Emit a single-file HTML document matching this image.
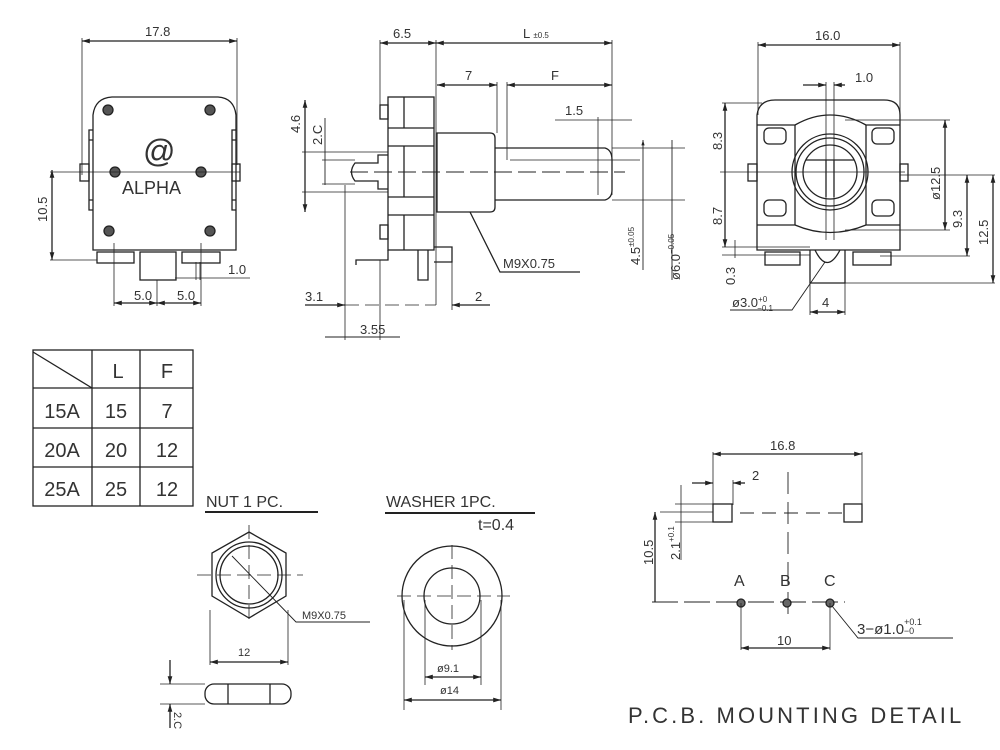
<!DOCTYPE html>
<html><head><meta charset="utf-8"><style>
html,body{margin:0;padding:0;background:#fff;}
svg{display:block;}
text{font-family:"Liberation Sans",sans-serif;fill:#333;}
</style></head><body>
<svg width="1000" height="750" viewBox="0 0 1000 750" xmlns="http://www.w3.org/2000/svg">
<defs>
<marker id="a" viewBox="0 0 10 10" refX="10" refY="5" markerWidth="6" markerHeight="6" orient="auto-start-reverse"><path d="M0,2 L10,5 L0,8z" fill="#222"/></marker>
</defs>
<g stroke="#222" stroke-width="1.3" fill="none">
<path d="M93,250 L93,115 Q95,98 112,97 L218,97 Q234,98 236,115 L236,250 Z"/>
<path d="M93,130 h-4 v10 h4 M93,200 h-4 v10 h4 M236,130 h-4 v10 h4 M236,200 h-4 v10 h4 M89,140 v60 M232,140 v60"/>
<rect x="80" y="164" width="9" height="17"/><rect x="232" y="164" width="8" height="17"/>
<g fill="#555"><circle cx="108" cy="110" r="5"/><circle cx="210" cy="110" r="5"/><circle cx="115" cy="172" r="5"/><circle cx="201" cy="172" r="5"/><circle cx="109" cy="231" r="5"/><circle cx="210" cy="231" r="5"/></g>
<rect x="97" y="252" width="37" height="11"/><rect x="140" y="252" width="36" height="28"/><rect x="182" y="252" width="38" height="11"/>
<line x1="50" y1="172" x2="240" y2="172" stroke-width="0.8"/>
<line x1="82" y1="41" x2="237" y2="41" marker-start="url(#a)" marker-end="url(#a)"/>
<line x1="82" y1="38" x2="82" y2="175" stroke-width="0.8"/><line x1="237" y1="38" x2="237" y2="165" stroke-width="0.8"/>
<line x1="52" y1="170" x2="52" y2="260" marker-start="url(#a)" marker-end="url(#a)"/>
<line x1="50" y1="260" x2="97" y2="260" stroke-width="0.8"/>
<line x1="114" y1="243" x2="114" y2="306" stroke-width="0.8"/><line x1="157" y1="280" x2="157" y2="306" stroke-width="0.8"/><line x1="201" y1="243" x2="201" y2="306" stroke-width="0.8"/>
<line x1="114" y1="303" x2="157" y2="303" marker-start="url(#a)" marker-end="url(#a)"/><line x1="157" y1="303" x2="201" y2="303" marker-start="url(#a)" marker-end="url(#a)"/>
<line x1="175" y1="278" x2="250" y2="278" stroke-width="0.8"/>
<line x1="196" y1="262" x2="196" y2="280" stroke-width="0.8"/><line x1="200" y1="262" x2="200" y2="280" stroke-width="0.8"/>
<rect x="388" y="97" width="46" height="153"/>
<line x1="388" y1="128" x2="434" y2="128"/><line x1="388" y1="146" x2="434" y2="146"/><line x1="388" y1="197" x2="434" y2="197"/><line x1="388" y1="215" x2="434" y2="215"/>
<line x1="404" y1="97" x2="404" y2="128"/><line x1="404" y1="146" x2="404" y2="197"/><line x1="404" y1="215" x2="404" y2="250"/>
<rect x="380" y="105" width="8" height="14"/><rect x="380" y="225" width="8" height="14"/>
<path d="M437,133 L490,133 Q495,133 495,138 L495,207 Q495,212 490,212 L437,212 Z"/>
<path d="M495,148 L605,148 Q612,150 612,160 L612,190 Q612,198 605,200 L495,200"/>
<line x1="510" y1="160" x2="640" y2="160" stroke-width="0.8"/>
<path d="M388,155 L378,155 L378,163 L355,163 Q348,172 355,181 L378,181 L378,189 L388,189"/>
<line x1="322" y1="160" x2="355" y2="160" stroke-width="0.8"/><line x1="322" y1="184" x2="355" y2="184" stroke-width="0.8"/>
<path d="M388,250 L388,260 L356,260 L356,265 M418,250 L418,280 L428,280 L428,250 M434,247 L452,247 L452,262 L434,262"/>
<line x1="350" y1="172" x2="625" y2="172" stroke-dasharray="18,6" stroke-width="0.9"/>
<line x1="380" y1="40" x2="380" y2="110" stroke-width="0.8"/><line x1="436" y1="40" x2="436" y2="305" stroke-width="0.8"/><line x1="612" y1="40" x2="612" y2="195" stroke-width="0.8"/>
<line x1="380" y1="43" x2="436" y2="43" marker-start="url(#a)" marker-end="url(#a)"/>
<line x1="436" y1="43" x2="612" y2="43" marker-start="url(#a)" marker-end="url(#a)"/>
<line x1="437" y1="85" x2="497" y2="85" marker-start="url(#a)" marker-end="url(#a)"/>
<line x1="507" y1="85" x2="612" y2="85" marker-start="url(#a)" marker-end="url(#a)"/>
<line x1="497" y1="82" x2="497" y2="133" stroke-width="0.8"/><line x1="507" y1="82" x2="507" y2="160" stroke-width="0.8"/>
<line x1="555" y1="120" x2="632" y2="120" stroke-width="0.8"/><line x1="598" y1="117" x2="598" y2="195" stroke-width="0.8"/>
<line x1="612" y1="148" x2="685" y2="148" stroke-width="0.8"/><line x1="612" y1="200" x2="685" y2="200" stroke-width="0.8"/>
<line x1="643" y1="140" x2="643" y2="270" marker-start="url(#a)" stroke-width="0.9"/>
<line x1="672" y1="140" x2="672" y2="280" stroke-width="0.9"/>
<line x1="305" y1="100" x2="305" y2="212" marker-start="url(#a)" marker-end="url(#a)"/>
<line x1="302" y1="152" x2="388" y2="152" stroke-width="0.8"/><line x1="302" y1="192" x2="388" y2="192" stroke-width="0.8"/>
<line x1="325" y1="118" x2="325" y2="185" stroke-width="0.9"/>
<line x1="345" y1="185" x2="345" y2="340" stroke-width="0.8"/><line x1="380" y1="260" x2="380" y2="340" stroke-width="0.8"/><line x1="452" y1="250" x2="452" y2="310" stroke-width="0.8"/>
<line x1="305" y1="305" x2="345" y2="305" marker-end="url(#a)"/><line x1="345" y1="305" x2="436" y2="305" stroke-dasharray="14,6" stroke-width="0.8"/>
<line x1="452" y1="305" x2="490" y2="305" marker-start="url(#a)"/>
<line x1="325" y1="337" x2="400" y2="337" stroke-width="0.9"/>
<polyline points="470,212 500,272 580,272"/>
<path d="M757,250 L757,115 Q759,100 775,100 L884,100 Q900,100 900,115 L900,250 Z"/>
<rect x="748" y="164" width="9" height="17"/><rect x="900" y="164" width="8" height="17"/>
<rect x="764" y="128" width="22" height="16" rx="5"/><rect x="872" y="128" width="22" height="16" rx="5"/>
<rect x="764" y="200" width="22" height="16" rx="5"/><rect x="872" y="200" width="22" height="16" rx="5"/>
<path d="M757,125 L795,125 Q830,105 866,125 L900,125 M757,225 L795,225 Q830,240 866,225 L900,225"/>
<line x1="795" y1="125" x2="795" y2="225"/><line x1="866" y1="125" x2="866" y2="225"/>
<circle cx="830" cy="172" r="38"/><circle cx="830" cy="172" r="34"/><circle cx="830" cy="172" r="27"/>
<path d="M806,160 L854,160 M826,160 V197 M834,160 V197"/>
<rect x="765" y="252" width="35" height="13"/><rect x="853" y="252" width="38" height="13"/>
<path d="M810,250 L810,283 L845,283 L845,250 M815,250 Q827,275 840,250"/>
<line x1="720" y1="172" x2="905" y2="172" stroke-width="0.8"/>
<line x1="758" y1="42" x2="758" y2="115" stroke-width="0.8"/><line x1="900" y1="42" x2="900" y2="115" stroke-width="0.8"/>
<line x1="758" y1="45" x2="900" y2="45" marker-start="url(#a)" marker-end="url(#a)"/>
<line x1="803" y1="85" x2="826" y2="85" marker-end="url(#a)"/><line x1="834" y1="85" x2="845" y2="85" marker-start="url(#a)"/>
<line x1="826" y1="82" x2="826" y2="240" stroke-width="0.8"/><line x1="834" y1="82" x2="834" y2="240" stroke-width="0.8"/>
<line x1="722" y1="103" x2="762" y2="103" stroke-width="0.8"/>
<line x1="725" y1="103" x2="725" y2="247" marker-start="url(#a)" marker-end="url(#a)"/>
<line x1="722" y1="247" x2="810" y2="247" stroke-width="0.8"/><line x1="722" y1="255" x2="810" y2="255" stroke-width="0.8"/>
<line x1="735" y1="240" x2="735" y2="258" stroke-width="0.8"/>
<line x1="845" y1="120" x2="950" y2="120" stroke-width="0.8"/><line x1="845" y1="230" x2="950" y2="230" stroke-width="0.8"/>
<line x1="945" y1="120" x2="945" y2="230" marker-start="url(#a)" marker-end="url(#a)"/>
<line x1="900" y1="175" x2="995" y2="175" stroke-width="0.8"/><line x1="880" y1="256" x2="970" y2="256" stroke-width="0.8"/><line x1="845" y1="283" x2="995" y2="283" stroke-width="0.8"/>
<line x1="967" y1="175" x2="967" y2="256" marker-start="url(#a)" marker-end="url(#a)"/>
<line x1="993" y1="175" x2="993" y2="283" marker-start="url(#a)" marker-end="url(#a)"/>
<line x1="810" y1="283" x2="810" y2="315" stroke-width="0.8"/><line x1="845" y1="283" x2="845" y2="315" stroke-width="0.8"/>
<line x1="810" y1="312" x2="845" y2="312" marker-start="url(#a)" marker-end="url(#a)"/>
<polyline points="730,310 792,310 825,262" stroke-width="0.9"/>
<rect x="33" y="350" width="160" height="156"/>
<line x1="33" y1="388" x2="193" y2="388"/><line x1="33" y1="428" x2="193" y2="428"/><line x1="33" y1="467" x2="193" y2="467"/>
<line x1="92" y1="350" x2="92" y2="506"/><line x1="140" y1="350" x2="140" y2="506"/>
<line x1="33" y1="352" x2="92" y2="388"/>
<line x1="205" y1="512" x2="318" y2="512" stroke-width="2"/>
<polygon points="249,532 286,553 286,596 249,618 212,596 212,553"/>
<circle cx="249" cy="575" r="33"/><circle cx="249" cy="575" r="29"/>
<line x1="197" y1="575" x2="303" y2="575" stroke-dasharray="14,6" stroke-width="0.8"/>
<line x1="249" y1="525" x2="249" y2="625" stroke-dasharray="14,6" stroke-width="0.8"/>
<polyline points="232,556 296,622 370,622" stroke-width="0.9"/>
<line x1="210" y1="610" x2="210" y2="665" stroke-width="0.8"/><line x1="288" y1="610" x2="288" y2="665" stroke-width="0.8"/>
<line x1="210" y1="662" x2="288" y2="662" marker-start="url(#a)" marker-end="url(#a)"/>
<rect x="205" y="684" width="86" height="20" rx="9"/><line x1="228" y1="684" x2="228" y2="704"/><line x1="270" y1="684" x2="270" y2="704"/>
<line x1="160" y1="684" x2="205" y2="684" stroke-width="0.8"/><line x1="160" y1="704" x2="205" y2="704" stroke-width="0.8"/>
<line x1="170" y1="660" x2="170" y2="684" marker-end="url(#a)"/><line x1="170" y1="728" x2="170" y2="704" marker-end="url(#a)"/>
<line x1="385" y1="513" x2="535" y2="513" stroke-width="2"/>
<circle cx="452" cy="596" r="50"/><circle cx="452" cy="596" r="28"/>
<line x1="397" y1="596" x2="510" y2="596" stroke-dasharray="14,6" stroke-width="0.8"/>
<line x1="452" y1="545" x2="452" y2="650" stroke-dasharray="14,6" stroke-width="0.8"/>
<line x1="425" y1="600" x2="425" y2="685" stroke-width="0.8"/><line x1="481" y1="600" x2="481" y2="685" stroke-width="0.8"/>
<line x1="404" y1="600" x2="404" y2="710" stroke-width="0.8"/><line x1="501" y1="600" x2="501" y2="710" stroke-width="0.8"/>
<line x1="425" y1="677" x2="481" y2="677" marker-start="url(#a)" marker-end="url(#a)"/>
<line x1="404" y1="700" x2="501" y2="700" marker-start="url(#a)" marker-end="url(#a)"/>
<line x1="713" y1="452" x2="713" y2="505" stroke-width="0.8"/><line x1="862" y1="452" x2="862" y2="505" stroke-width="0.8"/>
<line x1="713" y1="454" x2="862" y2="454" marker-start="url(#a)" marker-end="url(#a)"/>
<line x1="733" y1="480" x2="733" y2="505" stroke-width="0.8"/>
<line x1="692" y1="483" x2="713" y2="483" marker-end="url(#a)"/><line x1="733" y1="483" x2="745" y2="483" marker-start="url(#a)"/>
<rect x="713" y="504" width="19" height="18"/><rect x="844" y="504" width="18" height="18"/>
<line x1="740" y1="513" x2="842" y2="513" stroke-dasharray="14,8" stroke-width="0.9"/>
<line x1="788" y1="472" x2="788" y2="615" stroke-dasharray="22,8" stroke-width="0.9"/>
<line x1="660" y1="512" x2="713" y2="512" stroke-width="0.8"/><line x1="675" y1="504" x2="713" y2="504" stroke-width="0.8"/><line x1="675" y1="522" x2="713" y2="522" stroke-width="0.8"/>
<line x1="681" y1="485" x2="681" y2="560" stroke-width="0.8"/>
<line x1="655" y1="512" x2="655" y2="602" marker-start="url(#a)"/>
<line x1="652" y1="602" x2="845" y2="602" stroke-dasharray="26,6" stroke-width="0.9"/>
<g fill="#666"><circle cx="741" cy="603" r="4"/><circle cx="787" cy="603" r="4"/><circle cx="830" cy="603" r="4"/></g>
<line x1="741" y1="603" x2="741" y2="650" stroke-width="0.8"/><line x1="830" y1="603" x2="830" y2="650" stroke-width="0.8"/>
<line x1="741" y1="648" x2="830" y2="648" marker-start="url(#a)" marker-end="url(#a)"/>
<polyline points="832,606 858,638 953,638" stroke-width="0.9"/>
</g>
<g font-size="13">
<text x="145" y="36">17.8</text>
<text x="134" y="300">5.0</text><text x="177" y="300">5.0</text>
<text x="228" y="274">1.0</text>
<text x="143" y="162" font-size="32">@</text>
<text x="122" y="194" font-size="18">ALPHA</text>
<text transform="translate(47,222) rotate(-90)">10.5</text>
<text x="393" y="38">6.5</text>
<text x="523" y="38">L <tspan font-size="8">±0.5</tspan></text>
<text x="465" y="80">7</text><text x="551" y="80">F</text>
<text x="565" y="115">1.5</text>
<text transform="translate(300,133) rotate(-90)">4.6</text>
<text transform="translate(322,145) rotate(-90)">2.C</text>
<text x="305" y="301">3.1</text><text x="475" y="301">2</text>
<text x="360" y="334">3.55</text>
<text x="503" y="268">M9X0.75</text>
<text transform="translate(640,265) rotate(-90)">4.5<tspan font-size="8" dy="-6">±0.05</tspan></text>
<text transform="translate(680,280) rotate(-90)">ø6.0<tspan font-size="8" dy="-6">−0.05</tspan></text>
<text x="815" y="40">16.0</text>
<text x="855" y="82">1.0</text>
<text transform="translate(722,150) rotate(-90)">8.3</text>
<text transform="translate(722,225) rotate(-90)">8.7</text>
<text transform="translate(735,285) rotate(-90)">0.3</text>
<text transform="translate(940,200) rotate(-90)">ø12.5</text>
<text transform="translate(962,228) rotate(-90)">9.3</text>
<text transform="translate(988,245) rotate(-90)">12.5</text>
<text x="732" y="307">ø3.0<tspan font-size="8" dy="-5">+0</tspan><tspan font-size="8" dx="-10" dy="9">−0.1</tspan></text>
<text x="822" y="307">4</text>
</g>
<g font-size="20" fill="#333" text-anchor="middle">
<text x="118" y="378">L</text><text x="167" y="378">F</text>
<text x="62" y="418">15A</text><text x="116" y="418">15</text><text x="167" y="418">7</text>
<text x="62" y="457">20A</text><text x="116" y="457">20</text><text x="167" y="457">12</text>
<text x="62" y="496">25A</text><text x="116" y="496">25</text><text x="167" y="496">12</text>
</g>
<g font-size="16">
<text x="206" y="507">NUT 1 PC.</text>
<text x="386" y="507">WASHER 1PC.</text>
<text x="478" y="530">t=0.4</text>
</g>
<g font-size="11">
<text x="302" y="619">M9X0.75</text>
<text x="238" y="656">12</text>
<text transform="translate(174,712) rotate(90)">2.C</text>
<text x="437" y="672">ø9.1</text>
<text x="440" y="694">ø14</text>
</g>
<g font-size="13">
<text x="770" y="450">16.8</text>
<text x="752" y="480">2</text>
<text transform="translate(653,565) rotate(-90)">10.5</text>
<text transform="translate(680,560) rotate(-90)">2.1<tspan font-size="8" dy="-6">+0.1</tspan></text>
<text x="734" y="586" font-size="16">A</text><text x="780" y="586" font-size="16">B</text><text x="824" y="586" font-size="16">C</text>
<text x="777" y="645">10</text>
<text x="857" y="634" font-size="15">3−ø1.0<tspan font-size="9" dy="-9">+0.1</tspan><tspan font-size="9" dx="-18" dy="9">−0</tspan></text>
</g>
<text x="628" y="723" font-size="22" letter-spacing="3.1">P.C.B. MOUNTING DETAIL</text>
</svg>
</body></html>
